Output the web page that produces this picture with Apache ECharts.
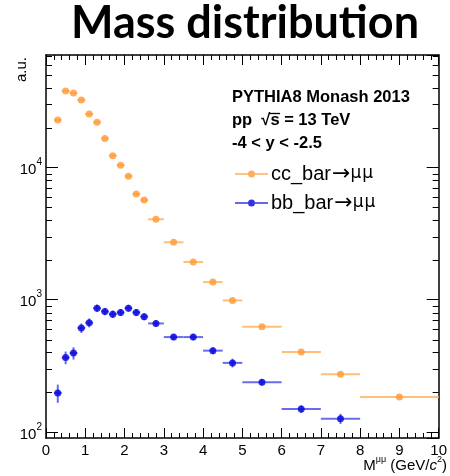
<!DOCTYPE html>
<html>
<head>
<meta charset="utf-8">
<script src="https://cdn.jsdelivr.net/npm/echarts@6/dist/echarts.min.js"></script>
<style>
  html, body { margin: 0; padding: 0; background: #ffffff; }
  #chart { width: 450px; height: 476px; }
</style>
</head>
<body>
<div id="chart"></div>
<script>
// Dimuon invariant-mass bins (bin centre and half width, GeV/c^2)
const massBins      = [0.3, 0.5, 0.7, 0.9, 1.1, 1.3, 1.5, 1.7, 1.9, 2.1, 2.3, 2.5, 2.8, 3.25, 3.75, 4.25, 4.75, 5.5, 6.5, 7.5, 9.0];
const binHalfWidths = [0.1, 0.1, 0.1, 0.1, 0.1, 0.1, 0.1, 0.1, 0.1, 0.1, 0.1, 0.1, 0.2, 0.25, 0.25, 0.25, 0.25, 0.5, 0.5, 0.5, 1.0];

// Open charm: cc_bar -> mu mu (a.u.)
const ccYield = [22900, 37900, 36600, 32400, 25400, 22000, 16600, 12300, 10400, 8610, 6300, 5670,
                 4060, 2720, 1930, 1360, 988, 625, 403, 273, 184];

// Open beauty: bb_bar -> mu mu (a.u.) and statistical uncertainty
const bbYield    = [197, 365, 395, 611, 670, 864, 816, 778, 802, 864, 802, 745,
                    662, 522, 522, 412, 333, 238, 149, 126];
const bbYieldErr = [31, 40, 42, 50, 52, 55, 52, 50, 50, 52, 50, 45,
                    38, 28, 28, 25, 25, 13, 10, 11];

// Minor tick positions on the logarithmic axis
const yMinorTicks = [200, 300, 400, 500, 600, 700, 800, 900,
                     2000, 3000, 4000, 5000, 6000, 7000, 8000, 9000,
                     20000, 30000, 40000, 50000, 60000, 70000];

// Legend entries
const seriesNames = ['cc_bar\u2192\u03bc\u03bc', 'bb_bar\u2192\u03bc\u03bc'];

const FONT = 'Liberation Sans';
const ccColor = '#ff9933', ccBarColor = '#ffbe7a';
const bbColor = '#0000dd', bbBarColor = '#6b6bee';

// rows: [x, y, xLow, xHigh, yLow, yHigh]
function buildRows(yields, errs) {
  return yields.map((y, i) => {
    const e = errs ? errs[i] : 0;
    return [massBins[i], y, massBins[i] - binHalfWidths[i], massBins[i] + binHalfWidths[i], y - e, y + e];
  });
}
const ccRows = buildRows(ccYield, null);
const bbRows = buildRows(bbYield, bbYieldErr);

function errorBars(name, rows, color) {
  return {
    type: 'custom',
    name: name + ' err',
    xAxisIndex: 0, yAxisIndex: 0,
    silent: true, z: 2,
    data: rows,
    encode: { x: [0, 2, 3], y: [1, 4, 5] },
    renderItem(params, api) {
      const x = api.value(0), y = api.value(1);
      const l = api.coord([api.value(2), y]);
      const r = api.coord([api.value(3), y]);
      const b = api.coord([x, api.value(4)]);
      const t = api.coord([x, api.value(5)]);
      return {
        type: 'group',
        children: [
          { type: 'line', shape: { x1: l[0], y1: l[1], x2: r[0], y2: r[1] }, style: { stroke: color, lineWidth: 2 } },
          { type: 'line', shape: { x1: b[0], y1: b[1], x2: t[0], y2: t[1] }, style: { stroke: color, lineWidth: 2 } }
        ]
      };
    }
  };
}

// short inward ticks on both vertical frame edges at 2..9 x 10^n
const minorTickSeries = {
  type: 'custom',
  name: 'minor ticks',
  xAxisIndex: 0, yAxisIndex: 0,
  silent: true, clip: false, z: 5,
  data: yMinorTicks.map(v => [0, v]),
  encode: { x: 0, y: 1 },
  renderItem(params, api) {
    const v = api.value(1);
    const l = api.coord([0, v]);
    const r = api.coord([10, v]);
    const y = Math.round(l[1]) + 0.5;
    return {
      type: 'group',
      children: [
        { type: 'line', shape: { x1: l[0], y1: y, x2: l[0] + 6, y2: y }, style: { stroke: '#000', lineWidth: 1 } },
        { type: 'line', shape: { x1: r[0], y1: y, x2: r[0] - 6, y2: y }, style: { stroke: '#000', lineWidth: 1 } }
      ]
    };
  }
};

function powerLabel(v) {
  const e = Math.round(Math.log10(v));
  if (Math.abs(Math.pow(10, e) - v) > 1e-6 * v) return '';
  return '{b|10}{s|' + e + '}';
}

// legend label: the arrow and the muons are set in a symbol-style face
function legendLabel(name) {
  const parts = name.split('\u2192');
  return '{t|' + parts[0] + '}{a|\u2192}{u|\u03bc}{u|\u03bc}';
}

const legendIcon = 'path://M0,3h13v1.4h-13z M20,3h13v1.4h-13z M13,3.7a3.5,3.5 0 1,0 7,0a3.5,3.5 0 1,0 -7,0z';

const axisLineStyle = { color: '#000', width: 1.5 };

// overline of the square root in the annotation block
const noteFont = 'bold 16.5px "Liberation Sans"';
const measureCtx = document.createElement('canvas').getContext('2d');
measureCtx.font = noteFont;
const noteLeft = 232;
const rootEnd = noteLeft + measureCtx.measureText('pp  \u221A').width;
const sEnd = noteLeft + measureCtx.measureText('pp  \u221As').width;

const option = {
  animation: false,
  backgroundColor: '#ffffff',
  title: {
    text: 'Mass distribution',
    left: 240, top: -4,
    textAlign: 'center',
    textStyle: { fontFamily: 'Lato', fontWeight: 'bold', fontSize: 45, color: '#000' }
  },
  grid: { left: 46, right: 3, top: 55, bottom: 38 },
  legend: {
    orient: 'vertical',
    left: 230, top: 158,
    itemWidth: 33, itemHeight: 7,
    itemGap: 7,
    formatter: legendLabel,
    textStyle: {
      fontFamily: FONT, fontSize: 20, color: '#000', lineHeight: 21, padding: [0, 0, 0, -2],
      rich: {
        t: { fontFamily: FONT, fontSize: 20, color: '#000', lineHeight: 21 },
        a: { fontFamily: 'DejaVu Sans', fontSize: 22, color: '#000', lineHeight: 21, padding: [0, 0, 0, 1] },
        u: { fontFamily: 'DejaVu Sans', fontSize: 17, color: '#000', lineHeight: 21, padding: [0, 1, 0, 0] }
      }
    },
    data: seriesNames.map(n => ({ name: n, icon: legendIcon }))
  },
  xAxis: [
    {
      type: 'value', position: 'bottom', min: 0, max: 10, interval: 1,
      axisLine: { show: true, onZero: false, lineStyle: axisLineStyle },
      axisTick: { show: true, inside: true, length: 10, lineStyle: { color: '#000', width: 1 } },
      minorTick: { show: true, splitNumber: 5, length: 5, lineStyle: { color: '#000', width: 1 } },
      axisLabel: { show: true, margin: 5, fontFamily: FONT, fontSize: 15, color: '#000' },
      splitLine: { show: false }
    },
    {
      type: 'value', position: 'top', min: 0, max: 10, interval: 1,
      axisLine: { show: true, onZero: false, lineStyle: axisLineStyle },
      axisTick: { show: true, inside: true, length: 10, lineStyle: { color: '#000', width: 1 } },
      minorTick: { show: true, splitNumber: 5, length: 5, lineStyle: { color: '#000', width: 1 } },
      axisLabel: { show: false },
      splitLine: { show: false }
    }
  ],
  yAxis: [
    {
      type: 'log', position: 'left', min: 90, max: 71000,
      axisLine: { show: true, onZero: false, lineStyle: axisLineStyle },
      axisTick: { show: true, inside: true, length: 12, lineStyle: { color: '#000', width: 1 } },
      axisLabel: {
        show: true, margin: 4, formatter: powerLabel,
        showMinLabel: false, showMaxLabel: false,
        rich: {
          b: { fontFamily: FONT, fontSize: 15, color: '#000', lineHeight: 20, verticalAlign: 'bottom' },
          s: { fontFamily: FONT, fontSize: 10, color: '#000', lineHeight: 20, verticalAlign: 'top' }
        }
      },
      splitLine: { show: false }
    },
    {
      type: 'log', position: 'right', min: 90, max: 71000,
      axisLine: { show: true, onZero: false, lineStyle: axisLineStyle },
      axisTick: { show: true, inside: true, length: 12, lineStyle: { color: '#000', width: 1 } },
      axisLabel: { show: false },
      splitLine: { show: false }
    }
  ],
  series: [
    minorTickSeries,
    errorBars('cc', ccRows, ccBarColor),
    errorBars('bb', bbRows, bbBarColor),
    {
      type: 'scatter', name: seriesNames[0],
      xAxisIndex: 0, yAxisIndex: 0, z: 3,
      symbol: 'circle', symbolSize: 7,
      itemStyle: { color: ccColor },
      data: ccRows.map(r => [r[0], r[1]])
    },
    {
      type: 'scatter', name: seriesNames[1],
      xAxisIndex: 0, yAxisIndex: 0, z: 3,
      symbol: 'circle', symbolSize: 7,
      itemStyle: { color: bbColor },
      data: bbRows.map(r => [r[0], r[1]])
    }
  ],
  graphic: [
    {
      type: 'text', left: noteLeft, top: 86,
      style: {
        text: 'PYTHIA8 Monash 2013\npp  \u221As = 13 TeV\n-4 < y < -2.5',
        font: noteFont, fill: '#000', lineHeight: 23
      }
    },
    {
      type: 'line',
      shape: { x1: rootEnd - 1, y1: 113.5, x2: sEnd + 0.5, y2: 113.5 },
      style: { stroke: '#000', lineWidth: 1.3 }
    },
    {
      type: 'text', x: 22, y: 57, rotation: Math.PI / 2,
      style: {
        text: 'a.u.', font: '15px "Liberation Sans"', fill: '#000',
        align: 'right', verticalAlign: 'middle'
      }
    },
    {
      type: 'text', right: 3, top: 455,
      style: {
        text: '{m|M}{sup|\u03bc\u03bc}{m| (GeV/}{c|c}{sup|2}{m|)}',
        rich: {
          m: { fontFamily: FONT, fontSize: 15, fill: '#000', lineHeight: 18, verticalAlign: 'bottom' },
          c: { fontFamily: FONT, fontSize: 15, fontStyle: 'italic', fill: '#000', lineHeight: 18, verticalAlign: 'bottom' },
          sup: { fontFamily: FONT, fontSize: 9, fill: '#000', lineHeight: 18, verticalAlign: 'top' }
        }
      }
    }
  ]
};

const chart = echarts.init(document.getElementById('chart'), null, { renderer: 'canvas' });
chart.setOption(option);
</script>
</body>
</html>
